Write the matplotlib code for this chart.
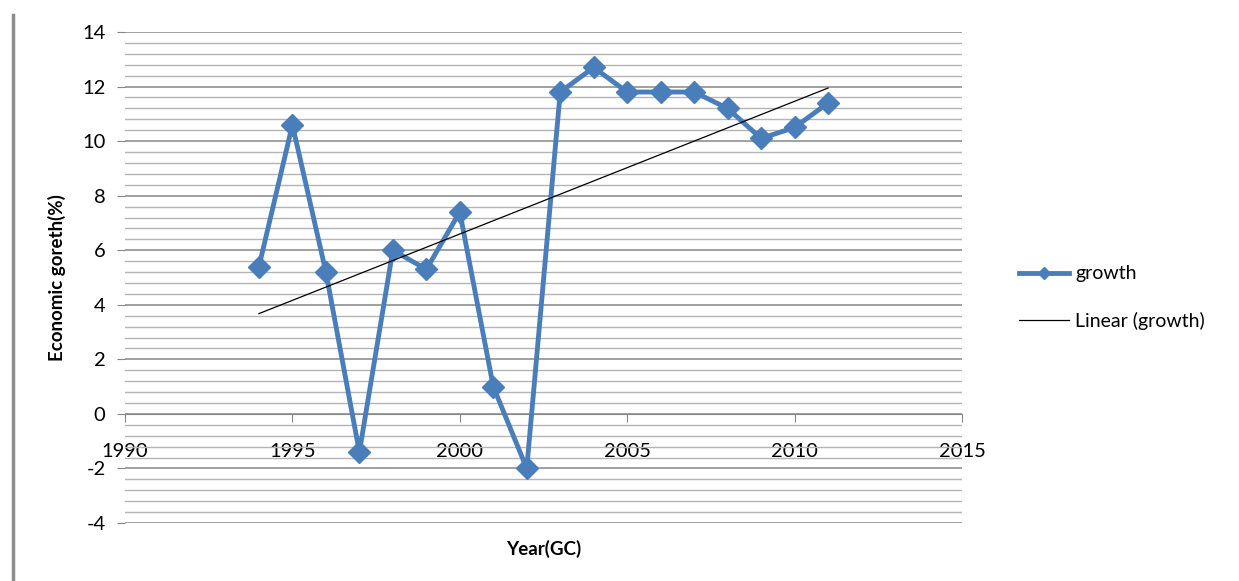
import matplotlib
matplotlib.use("Agg")
import matplotlib.pyplot as plt
from matplotlib.lines import Line2D
from matplotlib.ticker import MultipleLocator
import numpy as np

# data
years = [1994, 1995, 1996, 1997, 1998, 1999, 2000, 2001, 2002,
         2003, 2004, 2005, 2006, 2007, 2008, 2009, 2010, 2011]
growth = [5.4, 10.6, 5.2, -1.4, 6.0, 5.3, 7.4, 1.0, -2.0,
          11.8, 12.7, 11.8, 11.8, 11.8, 11.2, 10.1, 10.5, 11.4]

x_ticks = [1990, 1995, 2000, 2005, 2010, 2015]
y_ticks = [-4, -2, 0, 2, 4, 6, 8, 10, 12, 14]

plt.rcParams['font.family'] = ['Lato', 'DejaVu Sans']
plt.rcParams['axes.unicode_minus'] = False

fig = plt.figure(figsize=(12.39, 5.81), dpi=100)
ax = fig.add_axes([0.1009, 0.0998, 0.6755, 0.8451])

# linear trend line (Excel "Linear (growth)")
coef = np.polyfit(years, growth, 1)
trend = np.polyval(coef, [years[0], years[-1]])

ax.plot(years, growth, color='#4a7ebb', linewidth=3.5, marker='D',
        markersize=11, label='growth', zorder=3)
ax.plot([years[0], years[-1]], trend, color='black', linewidth=0.9,
        label='Linear (growth)', zorder=4)

ax.set_xlim(1990, 2015)
ax.set_ylim(-4, 14)
ax.set_xticks(x_ticks)
ax.set_yticks(y_ticks)
ax.yaxis.set_minor_locator(MultipleLocator(0.4))

ax.grid(True, axis='y', which='major', color='#868686', linewidth=1.1)
ax.grid(True, axis='y', which='minor', color='#b4b4b4', linewidth=1.0)
ax.set_axisbelow(True)

for side in ['top', 'right', 'left']:
    ax.spines[side].set_visible(False)
ax.spines['bottom'].set_position(('data', 0))
ax.spines['bottom'].set_color('#868686')

ax.tick_params(axis='y', which='major', length=6, color='#868686',
               labelsize=14.5, pad=8)
ax.tick_params(axis='y', which='minor', length=0)
ax.tick_params(axis='x', length=6, color='#868686', labelsize=14.5, pad=15)

ax.set_ylabel('Economic goreth(%)', fontsize=13.5, fontweight='bold', labelpad=12)
ax.set_xlabel('Year(GC)', fontsize=13.5, fontweight='bold')
ax.xaxis.set_label_coords(0.5, -0.035)

ax.legend(loc='center left', bbox_to_anchor=(0.808, 0.488),
          bbox_transform=fig.transFigure, frameon=False, fontsize=14,
          handlelength=2.6, labelspacing=1.5, handletextpad=0.3,
          markerscale=0.6)

# frame line on the left edge
fig.add_artist(Line2D([0.0105, 0.0105], [0, 0.975], color='#8c8c8c',
                      linewidth=2.5, transform=fig.transFigure))

fig.savefig('out.png', dpi=100)
